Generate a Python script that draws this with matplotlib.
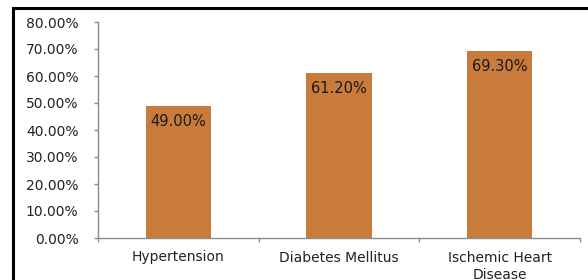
import matplotlib.pyplot as plt
from matplotlib.patches import Rectangle
from matplotlib.ticker import FuncFormatter

categories = ["Hypertension", "Diabetes Mellitus", "Ischemic Heart\nDisease"]
values = [49.00, 61.20, 69.30]
y_ticks = [0, 10, 20, 30, 40, 50, 60, 70, 80]

bar_color = "#C97B3B"
axis_color = "#8C8C8C"

fig = plt.figure(figsize=(5.88, 2.8), dpi=100)
ax = fig.add_axes([98 / 588, 1 - 238 / 280, 482 / 588, (238 - 22) / 280])

x = range(len(categories))
bars = ax.bar(x, values, width=0.405, color=bar_color)

for b, v in zip(bars, values):
    ax.text(b.get_x() + b.get_width() / 2, v - 5.8, "%.2f%%" % v,
            ha="center", va="center", fontsize=10.5, color="#1a1a1a")

ax.set_ylim(0, 80)
ax.set_yticks(y_ticks)
ax.yaxis.set_major_formatter(FuncFormatter(lambda v, p: "%.2f%%" % v))
ax.set_xlim(-0.5, len(categories) - 0.5)
ax.set_xticks(x)
ax.set_xticklabels(categories, fontsize=10, color="#222222", linespacing=1.35)
ax.set_xticks([-0.5, 0.5, 1.5, 2.5], minor=True)

ax.tick_params(axis="y", labelsize=10, labelcolor="#222222", color=axis_color,
               length=3, width=1, pad=11)
ax.tick_params(axis="x", which="major", length=0, pad=9)
ax.tick_params(axis="x", which="minor", length=3, width=1, color=axis_color)

for s in ["top", "right"]:
    ax.spines[s].set_visible(False)
for s in ["left", "bottom"]:
    ax.spines[s].set_color(axis_color)
    ax.spines[s].set_linewidth(1)

# outer black frame (cropped on right and bottom)
fig.patches.append(Rectangle((12.5 / 588, -0.1), 1.1, 1.1 - 8.5 / 280,
                             transform=fig.transFigure, fill=False,
                             edgecolor="black", linewidth=2.2, clip_on=False))

fig.savefig("out.png", dpi=100)
